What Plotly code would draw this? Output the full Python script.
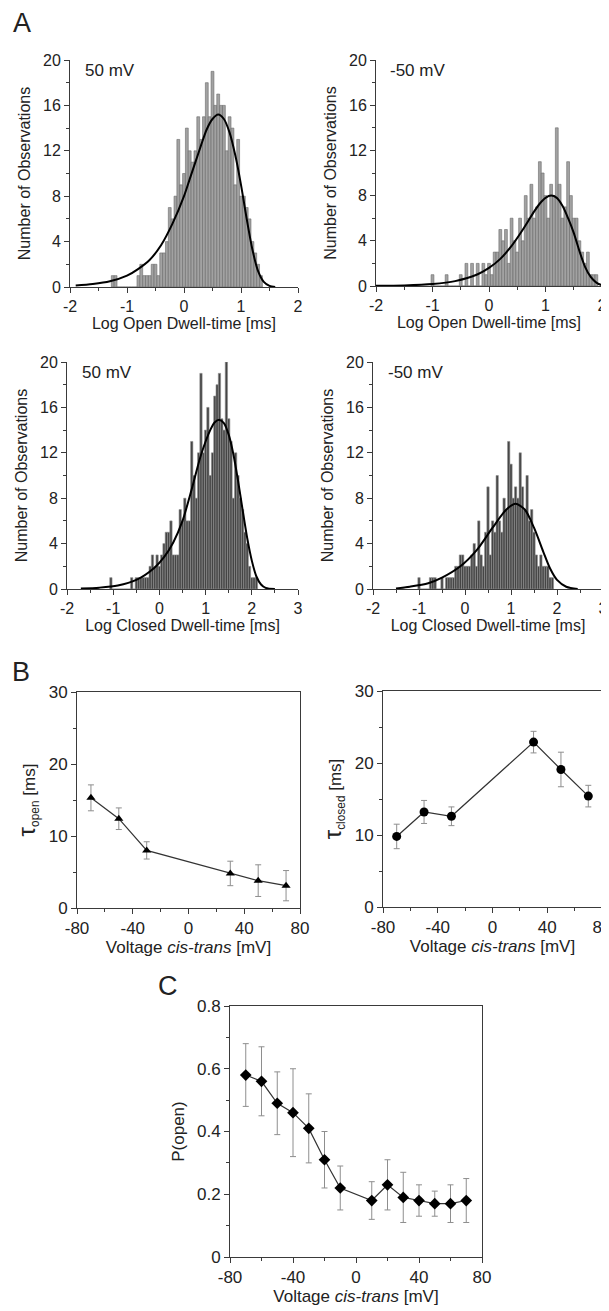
import numpy as np
import plotly.graph_objects as go

# the page body has an 8px margin, so the figure is drawn 8px in from the corner
OFF = 8
W, H = 609 - OFF, 1311 - OFF
FONT = "Liberation Sans, Arial, sans-serif"
INK = "#222222"
AX = "#3a3a3a"

# ---- panel A: dwell-time histograms (0.05 log-unit bins) ----
bin_w = 0.05

open50_start = -1.25
open50_counts = [1, 1, 0, 0, 0, 0, 0, 0, 0, 1, 2, 1, 1, 1, 2, 2, 1, 3, 3, 4, 7, 6, 8, 13, 9, 10,
                 14, 12, 11, 12, 15, 13, 15, 18, 15, 19, 16, 17, 16, 16, 12, 15, 14, 9, 13, 8, 8,
                 7, 6, 4, 3, 2, 1]
open50_fit_x = [-1.9, -1.6, -1.3, -1.0, -0.8, -0.6, -0.4, -0.2, 0.0, 0.1, 0.2, 0.3, 0.4, 0.5, 0.6,
                0.7, 0.8, 0.9, 1.0, 1.1, 1.2, 1.3, 1.4, 1.5, 1.6]
open50_fit_y = [0.13, 0.26, 0.5, 1.0, 1.6, 2.4, 3.7, 5.6, 8.0, 9.5, 11.0, 12.5, 13.9, 14.8, 15.2,
                14.8, 13.6, 11.6, 9.0, 6.0, 3.3, 1.4, 0.45, 0.1, 0.0]

openm50_start = -1.0
openm50_counts = [1, 0, 0, 0, 0, 1, 0, 0, 0, 0, 1, 0, 2, 0, 2, 0, 2, 0, 2, 1, 2, 1, 3, 3, 5, 4, 5,
                  2, 6, 4, 3, 6, 4, 8, 6, 9, 6, 7, 11, 10, 8, 6, 9, 8, 14, 9, 6, 7, 11, 8, 6, 6, 4,
                  3, 2, 3, 1, 1, 1]
openm50_fit_x = [-2.0, -1.5, -1.0, -0.6, -0.2, 0.0, 0.2, 0.4, 0.6, 0.8, 0.9, 1.0, 1.1, 1.2, 1.3,
                 1.4, 1.5, 1.6, 1.7, 1.8, 1.9, 2.0]
openm50_fit_y = [0.02, 0.05, 0.17, 0.43, 1.04, 1.6, 2.4, 3.55, 5.0, 6.6, 7.3, 7.8, 8.0, 7.8, 7.1,
                 6.0, 4.7, 3.1, 1.7, 0.8, 0.3, 0.06]

closed50_start = -1.05
closed50_counts = [1, 0, 0, 0, 0, 0, 0, 0, 0, 1, 0, 1, 1, 1, 1, 1, 1, 2, 3, 2, 3, 2, 3, 4, 5, 5, 6,
                   3, 3, 3, 7, 6, 8, 6, 6, 13, 10, 8, 12, 19, 12, 14, 16, 10, 12, 17, 18, 19, 15,
                   14, 20, 15, 13, 8, 12, 10, 8, 7, 5, 4, 2, 1, 1, 1]
closed50_fit_x = [-1.7, -1.3, -0.9, -0.5, -0.1, 0.1, 0.3, 0.5, 0.7, 0.9, 1.1, 1.2, 1.3, 1.4, 1.5,
                  1.6, 1.7, 1.8, 1.9, 2.0, 2.1, 2.2, 2.3, 2.5]
closed50_fit_y = [0.05, 0.12, 0.3, 0.8, 1.9, 2.8, 4.1, 6.0, 8.8, 11.8, 14.0, 14.7, 14.9, 14.6, 13.6,
                  11.9, 9.6, 7.0, 4.5, 2.5, 1.1, 0.4, 0.1, 0.0]

closedm50_start = -1.0
closedm50_counts = [1, 0, 0, 0, 0, 1, 1, 1, 0, 0, 1, 0, 1, 1, 1, 1, 2, 2, 3, 3, 2, 2, 2, 3, 4, 2, 6,
                    3, 2, 5, 9, 3, 6, 5, 10, 6, 5, 8, 7, 13, 11, 8, 9, 8, 12, 9, 7, 10, 6, 7, 5, 3,
                    2, 3, 2, 2, 2, 1, 1]
closedm50_fit_x = [-1.5, -1.2, -0.8, -0.5, -0.1, 0.25, 0.6, 0.9, 1.1, 1.3, 1.5, 1.7, 1.85, 2.0,
                   2.2, 2.45]
closedm50_fit_y = [0.05, 0.2, 0.5, 1.0, 2.0, 3.4, 5.4, 7.0, 7.5, 7.0, 5.4, 3.3, 1.8, 0.8, 0.2, 0.0]

# ---- panel B: time constants vs voltage ----
tau_v = [-70, -50, -30, 30, 50, 70]
tau_open = [15.3, 12.4, 8.0, 4.8, 3.8, 3.1]
tau_open_err = [1.8, 1.5, 1.2, 1.7, 2.2, 2.1]
tau_closed = [9.8, 13.2, 12.6, 22.9, 19.1, 15.4]
tau_closed_err = [1.7, 1.6, 1.3, 1.5, 2.4, 1.5]

# ---- panel C: open probability ----
po_v = [-70, -60, -50, -40, -30, -20, -10, 10, 20, 30, 40, 50, 60, 70]
po = [0.58, 0.56, 0.49, 0.46, 0.41, 0.31, 0.22, 0.18, 0.23, 0.19, 0.18, 0.17, 0.17, 0.18]
po_err = [0.10, 0.11, 0.10, 0.14, 0.11, 0.09, 0.07, 0.06, 0.08, 0.08, 0.05, 0.04, 0.06, 0.07]

# ---- tick labels (plain hyphen minus, as in the original) ----
open_ticks = [-2, -1, 0, 1, 2]
open_labels = ["-2", "-1", "0", "1", "2"]
closed_ticks = [-2, -1, 0, 1, 2, 3]
closed_labels = ["-2", "-1", "0", "1", "2", "3"]
count_ticks = [0, 4, 8, 12, 16, 20]
count_labels = ["0", "4", "8", "12", "16", "20"]
volt_ticks = [-80, -40, 0, 40, 80]
volt_labels = ["-80", "-40", "0", "40", "80"]
tau_ticks = [0, 10, 20, 30]
tau_labels = ["0", "10", "20", "30"]
po_ticks = [0, 0.2, 0.4, 0.6, 0.8]
po_labels = ["0", "0.2", "0.4", "0.6", "0.8"]

# pixel boxes (left, right, top, bottom) of each plot area, in window pixels
boxes = {
    1: (70, 298, 60, 287),
    2: (376, 602, 60, 286),
    3: (67, 298, 362, 589),
    4: (373, 603, 362, 589),
    5: (77, 300, 692, 908),
    6: (383, 602, 691, 907),
    7: (230, 482, 1006, 1257),
}


def dom(i):
    l, r, t, b = boxes[i]
    return [(l - OFF) / W, (r - OFF) / W], [1 - (b - OFF) / H, 1 - (t - OFF) / H]


fig = go.Figure()
layout = dict(width=W, height=H, margin=dict(l=0, r=0, t=0, b=0), template="none",
              paper_bgcolor="white", plot_bgcolor="white", showlegend=False,
              font=dict(family=FONT, color=INK, size=16), barmode="overlay")
annotations = []


def axis(rng, tv, tt, minor, fsize, title, standoff, mirror=False):
    return dict(range=rng, tickmode="array", tickvals=tv, ticktext=tt, showline=True,
                linecolor=AX, linewidth=1, mirror=mirror, ticks="outside", ticklen=5,
                tickwidth=1, tickcolor=AX, showgrid=False, zeroline=False,
                ticklabeloverflow="allow",
                tickfont=dict(size=fsize, family=FONT, color=INK),
                minor=dict(tickmode="linear", tick0=0, dtick=minor, ticks="outside", ticklen=3,
                           tickcolor=AX, showgrid=False),
                title=dict(text=title, standoff=standoff, font=dict(size=fsize, family=FONT, color=INK)))


hists = [
    (1, open50_start, open50_counts, open50_fit_x, open50_fit_y, [-2, 2], open_ticks, open_labels,
     "Log Open Dwell-time [ms]", "50 mV", "#a2a2a2", "#6a6a6a"),
    (2, openm50_start, openm50_counts, openm50_fit_x, openm50_fit_y, [-2, 2], open_ticks, open_labels,
     "Log Open Dwell-time [ms]", "-50 mV", "#a2a2a2", "#6a6a6a"),
    (3, closed50_start, closed50_counts, closed50_fit_x, closed50_fit_y, [-2, 3], closed_ticks, closed_labels,
     "Log Closed Dwell-time [ms]", "50 mV", "#454545", "#8f8f8f"),
    (4, closedm50_start, closedm50_counts, closedm50_fit_x, closedm50_fit_y, [-2, 3], closed_ticks, closed_labels,
     "Log Closed Dwell-time [ms]", "-50 mV", "#454545", "#8f8f8f"),
]

for i, start, counts, fx, fy, xr, tv, tt, xtitle, label, fill, edge in hists:
    xs = np.round(start + bin_w * np.arange(len(counts)), 3)
    xn = "x" if i == 1 else f"x{i}"
    yn = "y" if i == 1 else f"y{i}"
    fig.add_trace(go.Bar(x=xs, y=counts, width=bin_w, xaxis=xn, yaxis=yn,
                         marker=dict(color=fill, line=dict(color=edge, width=0.6))))
    fig.add_trace(go.Scatter(x=fx, y=fy, mode="lines", xaxis=xn, yaxis=yn,
                             line=dict(color="black", width=2, shape="spline", smoothing=0.8)))
    xd, yd = dom(i)
    xa = axis(xr, tv, tt, 0.5, 16, xtitle, 3)
    xa.update(domain=xd, anchor=yn)
    ya = axis([0, 20], count_ticks, count_labels, 2, 16, "Number of Observations", 8)
    ya.update(domain=yd, anchor=xn)
    layout["xaxis" if i == 1 else f"xaxis{i}"] = xa
    layout["yaxis" if i == 1 else f"yaxis{i}"] = ya
    annotations.append(dict(text=label, xref=f"{xn} domain", yref=f"{yn} domain", x=0.055, y=0.952,
                            xanchor="left", yanchor="middle", showarrow=False,
                            font=dict(size=17, family=FONT, color=INK)))

# panel B and C
lines = [
    (5, tau_v, tau_open, tau_open_err, "triangle-up", 8, [0, 30], tau_ticks, tau_labels, 5,
     "<span style='font-size:24px'>τ</span><sub>open</sub> [ms]"),
    (6, tau_v, tau_closed, tau_closed_err, "circle", 9, [0, 30], tau_ticks, tau_labels, 5,
     "<span style='font-size:24px'>τ</span><sub>closed</sub> [ms]"),
    (7, po_v, po, po_err, "diamond", 9, [0, 0.8], po_ticks, po_labels, 0.1, "P(open)"),
]
for i, vx, vy, ve, sym, msize, yr, ytv, ytt, ymin, ytitle in lines:
    xn, yn = f"x{i}", f"y{i}"
    fig.add_trace(go.Scatter(x=vx, y=vy, mode="lines+markers", xaxis=xn, yaxis=yn,
                             line=dict(color="#333333", width=1.2),
                             marker=dict(symbol=sym, size=msize, color="black"),
                             error_y=dict(type="data", array=ve, color="#8e8e8e", thickness=1, width=3)))
    xd, yd = dom(i)
    xa = axis([-80, 80], volt_ticks, volt_labels, 20, 17, "Voltage <i>cis-trans</i> [mV]", 3, mirror=True)
    xa.update(domain=xd, anchor=yn)
    ya = axis(yr, ytv, ytt, ymin, 17, ytitle, 8, mirror=True)
    ya.update(domain=yd, anchor=xn)
    layout[f"xaxis{i}"] = xa
    layout[f"yaxis{i}"] = ya

for letter, px, py in [("A", 22, 23), ("B", 21, 672), ("C", 168, 986)]:
    annotations.append(dict(text=letter, xref="paper", yref="paper", x=(px - OFF) / W,
                            y=1 - (py - OFF) / H, xanchor="center", yanchor="middle",
                            showarrow=False, font=dict(size=27, family=FONT, color=INK)))

layout["annotations"] = annotations
fig.update_layout(**layout)
fig.write_html("out.html")
